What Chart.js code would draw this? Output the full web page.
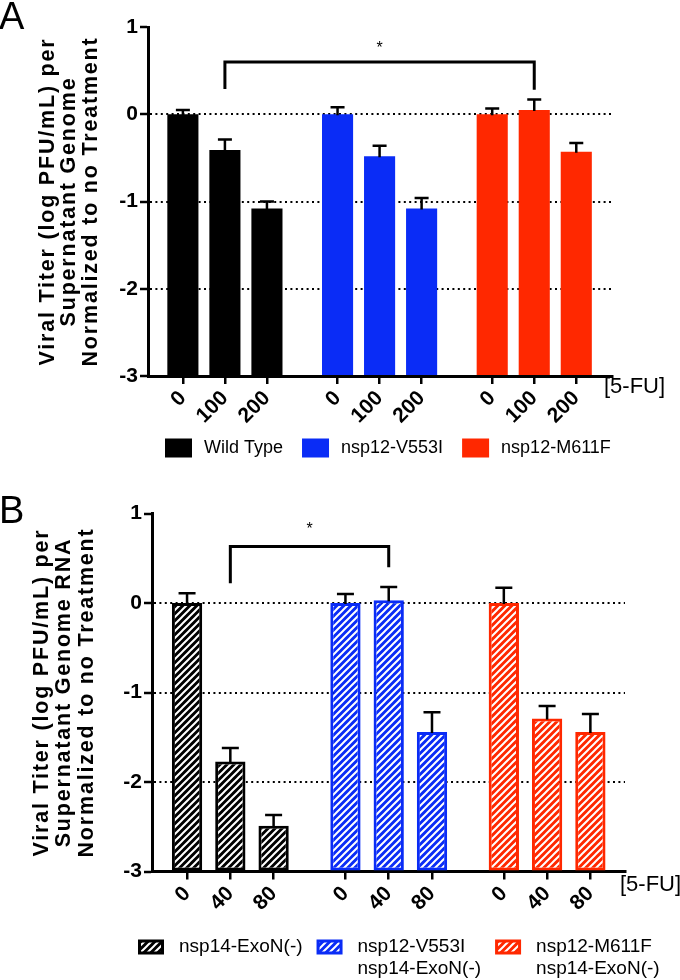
<!DOCTYPE html>
<html>
<head>
<meta charset="utf-8">
<script src="https://cdn.jsdelivr.net/npm/chart.js@4.4.1/dist/chart.umd.min.js"></script>
<style>
  body { margin: 0; background: #fff; }
  #wrap { position: relative; width: 680px; height: 980px; }
  canvas { position: absolute; left: 0; }
</style>
</head>
<body>
<div id="wrap">
  <canvas id="chartA" width="680" height="470" style="top:0"></canvas>
  <canvas id="chartB" width="680" height="510" style="top:470px"></canvas>
</div>
<script>
const FONT = '"Liberation Sans", Arial, Helvetica, sans-serif';
const BLACK = '#000000';
const BLUE = '#0a2cf6';
const RED = '#ff2800';

// panel A - 5-FU 0/100/200
const dosesA = ['0', '100', '200'];
const strainsA = ['Wild Type', 'nsp12-V553I', 'nsp12-M611F'];
const wildTypeA = [0, -0.41, -1.08];
const v553iA = [0, -0.48, -1.08];
const m611fA = [0, 0.05, -0.43];
const wildTypeErrA = [0.05, 0.12, 0.08];
const v553iErrA = [0.08, 0.12, 0.12];
const m611fErrA = [0.065, 0.12, 0.10];

// panel B - 5-FU 0/40/80, ExoN(-) background
const dosesB = ['0', '40', '80'];
const strainsB = [['nsp14-ExoN(-)'], ['nsp12-V553I', 'nsp14-ExoN(-)'], ['nsp12-M611F', 'nsp14-ExoN(-)']];
const exonB = [0, -1.77, -2.49];
const v553iB = [0, 0.03, -1.44];
const m611fB = [0, -1.29, -1.44];
const exonErrB = [0.11, 0.15, 0.12];
const v553iErrB = [0.10, 0.15, 0.22];
const m611fErrB = [0.17, 0.14, 0.20];

const dottedLevels = [0, -1, -2];

// hatched fill for panel B bars
function hatch(color) {
  const c = document.createElement('canvas');
  c.width = 7; c.height = 7;
  const g = c.getContext('2d');
  g.fillStyle = color;
  g.fillRect(0, 0, 7, 7);
  g.strokeStyle = '#fff';
  g.lineWidth = 2;
  g.beginPath();
  g.moveTo(0, 7); g.lineTo(7, 0);
  g.moveTo(-1, 1); g.lineTo(1, -1);
  g.moveTo(6, 8); g.lineTo(8, 6);
  g.stroke();
  return g.createPattern(c, 'repeat');
}

function drawPanel(id, p) {
  const positions = [];
  const datasets = p.series.map((vals, g) => ({
    label: Array.isArray(p.strains[g]) ? p.strains[g].join(' ') : p.strains[g],
    data: vals.map((v, i) => {
      const x = g * p.groupGap + i;
      positions.push(x);
      return { x, y: v };
    }),
    base: -3,
    backgroundColor: p.hatched ? hatch(p.colors[g]) : p.colors[g],
    borderColor: p.colors[g],
    borderWidth: p.hatched ? 3 : 0,
    borderSkipped: false,
    grouped: false,
    barPercentage: 1,
    categoryPercentage: p.barRatio
  }));

  const extras = {
    id: 'extras',
    afterDatasetsDraw(chart) {
      const { ctx, scales: { x, y } } = chart;
      ctx.save();
      ctx.strokeStyle = '#000';
      ctx.lineWidth = 2.5;
      // error bars (upper half only)
      p.errors.forEach((errs, g) => errs.forEach((e, i) => {
        const px = x.getPixelForValue(g * p.groupGap + i);
        const y0 = y.getPixelForValue(p.series[g][i]) + 1;
        const y1 = y.getPixelForValue(p.series[g][i] + e);
        ctx.beginPath();
        ctx.moveTo(px, y0); ctx.lineTo(px, y1);
        ctx.moveTo(px - p.capWidth / 2, y1); ctx.lineTo(px + p.capWidth / 2, y1);
        ctx.stroke();
      }));
      // significance bracket
      const s = p.sig;
      const xa = x.getPixelForValue(s.from[0] * p.groupGap + s.from[1]);
      const xb = x.getPixelForValue(s.to[0] * p.groupGap + s.to[1]);
      ctx.lineWidth = 3;
      ctx.lineJoin = 'miter';
      ctx.beginPath();
      ctx.moveTo(xa, y.getPixelForValue(s.ends[0]));
      ctx.lineTo(xa, y.getPixelForValue(s.top));
      ctx.lineTo(xb, y.getPixelForValue(s.top));
      ctx.lineTo(xb, y.getPixelForValue(s.ends[1]));
      ctx.stroke();
      ctx.fillStyle = '#000';
      ctx.font = '16px ' + FONT;
      ctx.textAlign = 'center';
      ctx.textBaseline = 'middle';
      ctx.fillText('*', (xa + xb) / 2, y.getPixelForValue(s.star) + 3);
      ctx.restore();
    },
    afterDraw(chart) {
      const { ctx, chartArea } = chart;
      ctx.save();
      ctx.fillStyle = '#000';
      // y title, three rotated lines
      ctx.save();
      ctx.translate(0, (chartArea.top + chartArea.bottom) / 2);
      ctx.rotate(-Math.PI / 2);
      ctx.font = 'bold ' + p.titleSize + 'px ' + FONT;
      ctx.letterSpacing = p.titleSpacing + 'px';
      ctx.textAlign = 'center';
      ctx.textBaseline = 'middle';
      p.yTitle.forEach((t, k) => ctx.fillText(t, 0, p.titleX[k]));
      ctx.restore();
      // panel letter
      ctx.font = '38px ' + FONT;
      ctx.textAlign = 'left';
      ctx.textBaseline = 'alphabetic';
      ctx.fillText(p.letter, -1, p.letterY);
      // dose unit
      ctx.font = p.unitSize + 'px ' + FONT;
      ctx.textBaseline = 'middle';
      ctx.fillText('[5-FU]', p.unitX, chartArea.bottom + p.unitDy);
      // legend
      const L = p.legend;
      ctx.font = L.size + 'px ' + FONT;
      let lx = L.x;
      p.strains.forEach((name, g) => {
        const lines = Array.isArray(name) ? name : [name];
        const by = L.y - L.boxH / 2;
        ctx.fillStyle = p.colors[g];
        ctx.fillRect(lx, by, L.boxW, L.boxH);
        if (p.hatched) {
          ctx.fillStyle = hatch(p.colors[g]);
          ctx.fillRect(lx + 3, by + 3, L.boxW - 6, L.boxH - 6);
        }
        ctx.fillStyle = '#000';
        let w = 0;
        lines.forEach((t, k) => {
          ctx.fillText(t, lx + L.boxW + L.gap, L.y + k * L.lineH);
          w = Math.max(w, ctx.measureText(t).width);
        });
        lx += L.boxW + L.gap + w + L.itemGap;
      });
      ctx.restore();
    }
  };

  return new Chart(document.getElementById(id), {
    type: 'bar',
    data: { datasets },
    options: {
      responsive: false,
      animation: false,
      layout: { padding: { top: p.padTop, right: p.padRight, left: 0, bottom: 0 } },
      plugins: { legend: { display: false }, tooltip: { enabled: false } },
      scales: {
        x: {
          type: 'linear',
          offset: false,
          min: p.xMin,
          max: p.xMax,
          afterBuildTicks: ax => { ax.ticks = positions.map(v => ({ value: v })); },
          afterFit: ax => { ax.height = p.xAxisHeight; },
          ticks: {
            autoSkip: false,
            minRotation: 45,
            maxRotation: 45,
            color: '#000',
            padding: 2,
            font: { family: FONT, weight: 'bold', size: p.xTickSize },
            callback: (v, i) => p.doses[i % p.doses.length]
          },
          grid: { drawOnChartArea: false, offset: false, color: '#000', lineWidth: 2.5, tickLength: 8, tickWidth: 2.5 },
          border: { color: '#000', width: 3 }
        },
        y: {
          min: -3,
          max: 1,
          afterFit: ax => { ax.width = p.yAxisWidth; },
          ticks: {
            stepSize: 1,
            color: '#000',
            padding: 2,
            font: { family: FONT, weight: 'bold', size: 21 }
          },
          grid: {
            color: c => dottedLevels.includes(c.tick && c.tick.value) ? '#000' : 'rgba(0,0,0,0)',
            lineWidth: 2,
            tickColor: '#000',
            tickLength: 8,
            tickWidth: 2.5,
            tickBorderDash: []
          },
          border: { color: '#000', width: 3, dash: [2, 3.4] },
          title: { display: false }
        }
      }
    },
    plugins: [extras]
  });
}

drawPanel('chartA', {
  letter: 'A', letterY: 29,
  doses: dosesA, strains: strainsA,
  series: [wildTypeA, v553iA, m611fA],
  errors: [wildTypeErrA, v553iErrA, m611fErrA],
  colors: [BLACK, BLUE, RED], hatched: false,
  groupGap: 3.68, xMin: -0.83, xMax: 10.21, barRatio: 0.74,
  padTop: 27, padRight: 68, yAxisWidth: 148, xAxisHeight: 94,
  xTickSize: 21, capWidth: 14,
  yTitle: ['Viral Titer (log PFU/mL) per', 'Supernatant Genome', 'Normalized to no Treatment'],
  titleSize: 21.5, titleSpacing: 1.8, titleX: [48, 69.5, 91],
  sig: { from: [0, 1], to: [2, 1], top: 0.60, ends: [0.29, 0.28], star: 0.79 },
  unitX: 604, unitDy: 11, unitSize: 22,
  legend: { x: 165, y: 448, boxW: 27, boxH: 19, gap: 12, itemGap: 19, size: 18, lineH: 22 }
});

drawPanel('chartB', {
  letter: 'B', letterY: 53,
  doses: dosesB, strains: strainsB,
  series: [exonB, v553iB, m611fB],
  errors: [exonErrB, v553iErrB, m611fErrB],
  colors: [BLACK, BLUE, RED], hatched: true,
  groupGap: 3.66, xMin: -0.81, xMax: 10.12, barRatio: 0.7,
  padTop: 43.5, padRight: 55, yAxisWidth: 152, xAxisHeight: 108.5,
  xTickSize: 21, capWidth: 17,
  yTitle: ['Viral Titer (log PFU/mL) per', 'Supernatant Genome RNA', 'Normalized to no Treatment'],
  titleSize: 21.5, titleSpacing: 1.8, titleX: [42, 64.5, 87],
  sig: { from: [0, 1], to: [1, 1], top: 0.63, ends: [0.22, 0.40], star: 0.85 },
  unitX: 620, unitDy: 13, unitSize: 22,
  legend: { x: 138, y: 477, boxW: 26, boxH: 15, gap: 15, itemGap: 14, size: 19, lineH: 22 }
});
</script>
</body>
</html>
